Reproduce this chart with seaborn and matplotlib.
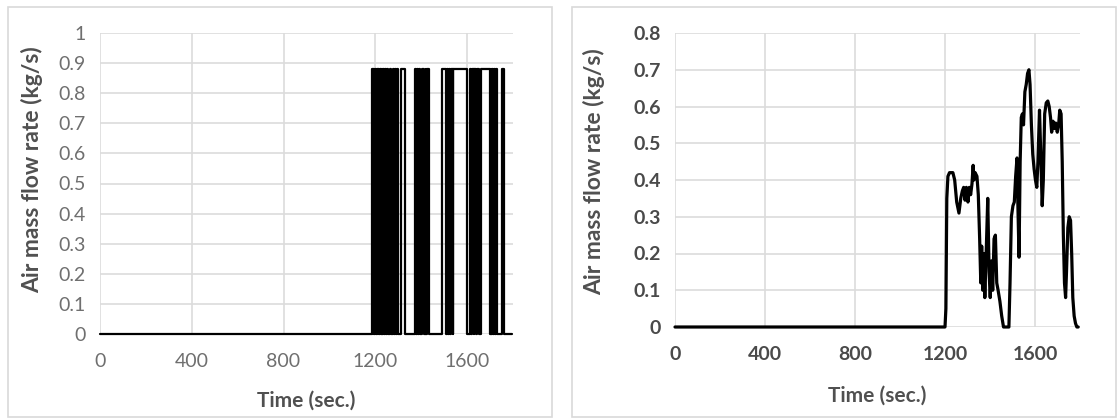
import numpy as np
import pandas as pd
import matplotlib
matplotlib.use("Agg")
import matplotlib.pyplot as plt
from matplotlib.patches import Rectangle
import seaborn as sns

# ---- data -------------------------------------------------------------
# Left panel: on/off valve pulses (flow at the "on" level between start and end)
on_level = 0.88
pulse_start = [1185, 1192, 1199, 1206, 1213, 1220, 1227, 1234, 1241,
               1251, 1265, 1279, 1287, 1295, 1312,
               1375, 1383, 1391, 1405, 1419, 1427,
               1491, 1513, 1521, 1530, 1540,
               1613, 1623, 1632, 1644, 1662, 1702, 1710, 1718, 1725,
               1752]
pulse_end = [1189, 1196, 1203, 1210, 1217, 1224, 1231, 1238, 1245,
             1255, 1269, 1283, 1291, 1299, 1331,
             1379, 1387, 1396, 1410, 1423, 1433,
             1509, 1517, 1527, 1537, 1600,
             1619, 1628, 1638, 1650, 1698, 1706, 1714, 1722, 1730,
             1762]
left_t_end = 1795

# Right panel: modulated air mass flow rate
right_time = [0, 1200, 1204, 1208, 1213, 1220, 1235, 1243, 1252, 1262,
              1270, 1277, 1283, 1289, 1295, 1302, 1308, 1314, 1320, 1325,
              1329, 1334, 1342, 1348, 1354, 1359, 1363, 1368, 1372, 1377,
              1383, 1390, 1396, 1401, 1407, 1412, 1418, 1424, 1430, 1436,
              1444, 1452, 1460, 1484, 1489, 1495, 1502, 1508, 1514, 1520,
              1524, 1529, 1534, 1539, 1544, 1549, 1555, 1561, 1567, 1573,
              1578, 1584, 1590, 1596, 1602, 1608, 1613, 1620, 1626, 1632,
              1637, 1643, 1650, 1657, 1663, 1669, 1674, 1680, 1686, 1692,
              1699, 1705, 1710, 1716, 1721, 1726, 1731, 1736, 1740, 1746,
              1752, 1758, 1763, 1768, 1774, 1780, 1786, 1792]
right_flow = [0.00, 0.00, 0.05, 0.35, 0.41, 0.42, 0.42, 0.40, 0.34, 0.31,
              0.35, 0.37, 0.38, 0.345, 0.38, 0.34, 0.38, 0.36, 0.39, 0.44,
              0.40, 0.42, 0.41, 0.36, 0.24, 0.12, 0.22, 0.10, 0.20, 0.08,
              0.20, 0.35, 0.15, 0.08, 0.18, 0.10, 0.24, 0.25, 0.12, 0.10,
              0.07, 0.03, 0.00, 0.00, 0.12, 0.30, 0.33, 0.34, 0.41, 0.46,
              0.33, 0.19, 0.45, 0.57, 0.58, 0.55, 0.64, 0.66, 0.69, 0.70,
              0.66, 0.55, 0.47, 0.43, 0.40, 0.38, 0.45, 0.59, 0.46, 0.33,
              0.40, 0.58, 0.61, 0.615, 0.60, 0.57, 0.53, 0.56, 0.54, 0.555,
              0.53, 0.55, 0.59, 0.58, 0.45, 0.25, 0.12, 0.08, 0.15, 0.27,
              0.30, 0.29, 0.20, 0.08, 0.03, 0.01, 0.00, 0.00]

x_ticks = [0, 400, 800, 1200, 1600]
left_y_ticks = [0, 0.1, 0.2, 0.3, 0.4, 0.5, 0.6, 0.7, 0.8, 0.9, 1]
right_y_ticks = [0, 0.1, 0.2, 0.3, 0.4, 0.5, 0.6, 0.7, 0.8]
x_label = "Time (sec.)"
y_label = "Air mass flow rate (kg/s)"

# ---- build the step series for the pulsed valve -------------------------
step_t = [0.0]
step_v = [0.0]
for s, e in zip(pulse_start, pulse_end):
    step_t += [s, e]
    step_v += [on_level, 0.0]
step_t.append(left_t_end)
step_v.append(0.0)
left_df = pd.DataFrame({"time": step_t, "flow": step_v})
right_df = pd.DataFrame({"time": right_time, "flow": right_flow})

# ---- style ------------------------------------------------------------
sns.set_theme(style="whitegrid")
plt.rcParams["font.family"] = ["Lato", "DejaVu Sans"]

W, H = 1118, 418
fig = plt.figure(figsize=(W / 100, H / 100), dpi=100)
fig.patch.set_facecolor("white")

# chart-area frames
for x0, x1 in [(8, 552), (572, 1116)]:
    fig.patches.append(Rectangle((x0 / W, 1 / H), (x1 - x0) / W, (417 - 7) / H,
                                 transform=fig.transFigure, fill=False,
                                 edgecolor="#d9d9d9", lw=1.2))

ax1 = fig.add_axes([100 / W, (H - 334) / H, 413 / W, 301 / H])
ax2 = fig.add_axes([675 / W, (H - 327) / H, 405 / W, 294 / H])

sns.lineplot(data=left_df, x="time", y="flow", ax=ax1, color="black",
             lw=1.6, drawstyle="steps-post", sort=False, estimator=None)
sns.lineplot(data=right_df, x="time", y="flow", ax=ax2, color="black",
             lw=2.3, sort=False, estimator=None)

grid_c = "#dcdcdc"
for ax, yt, ymax, tick_c, tick_w, lab_xy in [
        (ax1, left_y_ticks, 1.0, "#6f6f6f", "normal", (-0.165, 0.545)),
        (ax2, right_y_ticks, 0.8, "#4a4a4a", "bold", (-0.2, 0.527))]:
    ax.set_xlim(0, 1800)
    ax.set_ylim(0, ymax)
    ax.set_xticks(x_ticks)
    ax.set_xticklabels([str(v) for v in x_ticks])
    ax.set_yticks(yt)
    ax.set_yticklabels(["%g" % v for v in yt])
    ax.set_facecolor("white")
    ax.grid(True, color=grid_c, lw=1.2)
    for sp in ax.spines.values():
        sp.set_visible(False)
    ax.tick_params(axis="both", length=0, labelsize=14, colors=tick_c)
    ax.tick_params(axis="y", pad=10)
    ax.tick_params(axis="x", pad=14)
    for lbl in ax.get_xticklabels() + ax.get_yticklabels():
        lbl.set_fontweight(tick_w)
    for ln in ax.lines:
        ln.set_clip_on(False)
        ln.set_solid_joinstyle("round")
        ln.set_solid_capstyle("round")
    ax.set_xlabel(x_label, fontsize=15, fontweight="bold", color="#505050")
    ax.set_ylabel(y_label, fontsize=16.5, fontweight="bold", color="#505050")
    ax.yaxis.set_label_coords(*lab_xy)
    ax.yaxis.label.set_va("center")
    ax.xaxis.label.set_va("center")

ax1.xaxis.set_label_coords(0.5, -0.22)
ax2.xaxis.set_label_coords(0.5, -0.233)

fig.savefig("out.png", dpi=100, facecolor="white")
